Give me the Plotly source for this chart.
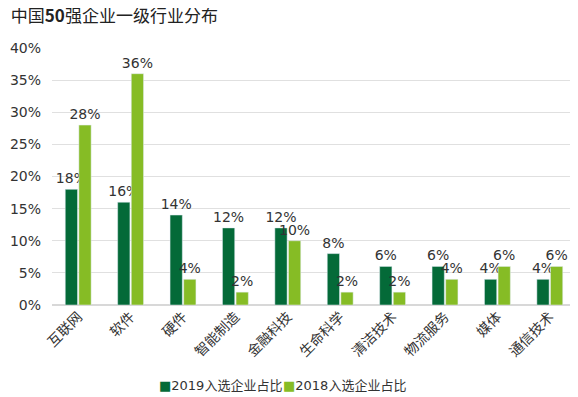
import plotly.graph_objects as go

categories = ["互联网", "软件", "硬件", "智能制造", "金融科技", "生命科学", "清洁技术", "物流服务", "媒体", "通信技术"]
share_2019 = [18, 16, 14, 12, 12, 8, 6, 6, 4, 4]
share_2018 = [28, 36, 4, 2, 10, 2, 2, 4, 6, 6]
series_names = ["2019入选企业占比", "2018入选企业占比"]
series_colors = ["#046A38", "#86BC25"]
y_ticks = [0, 5, 10, 15, 20, 25, 30, 35, 40]

FONT = "DejaVu Sans, Noto Sans CJK SC, sans-serif"
CJK = "Noto Sans CJK SC, sans-serif"
TXT = "#333333"

fig = go.Figure()
for name, vals, col in zip(series_names, [share_2019, share_2018], series_colors):
    fig.add_trace(go.Bar(
        x=categories, y=vals, name=name,
        marker_color=col,
        text=[f"{v}%" for v in vals], textposition="outside",
        textfont=dict(size=14, color=TXT, family=FONT),
        cliponaxis=False, constraintext="none",
    ))

# page body has an 8px offset, so the figure is sized/margined to compensate
fig.update_layout(
    width=570, height=389,
    margin=dict(l=44, r=2, t=40, b=92, autoexpand=False),
    paper_bgcolor="white", plot_bgcolor="white",
    font=dict(family=FONT, size=13, color=TXT),
    title=dict(text="中国<b>50</b>强企业一级行业分布", x=0.005, xanchor="left", xref="container",
               y=1, yanchor="top", yref="container", pad=dict(t=2, l=0),
               font=dict(family=CJK, size=17, color="#222222")),
    barmode="group", bargap=0.48, bargroupgap=0.1,
    showlegend=False,
)

legend_x = [0.2, 0.437]
for name, col, lx in zip(series_names, series_colors, legend_x):
    fig.add_annotation(
        text=f"<span style='color:{col}'>■</span>{name}",
        x=lx, y=-0.315, xref="paper", yref="paper",
        xanchor="left", yanchor="middle", showarrow=False,
        font=dict(size=13, color=TXT, family=FONT),
    )

fig.update_xaxes(tickangle=-45, tickfont=dict(size=14, color=TXT, family=CJK), showline=False,
                 ticks="", automargin=False)
fig.update_yaxes(range=[0, 40], tickvals=y_ticks, ticktext=[f"{v}%" for v in y_ticks],
                 showgrid=True, gridcolor="#E0E0E0", gridwidth=1, zeroline=True,
                 zerolinecolor="#D8D8D8", tickfont=dict(size=14, color=TXT, family=FONT), ticks="",
                 ticklabelstandoff=10, automargin=False)

fig.write_html("out.html")
